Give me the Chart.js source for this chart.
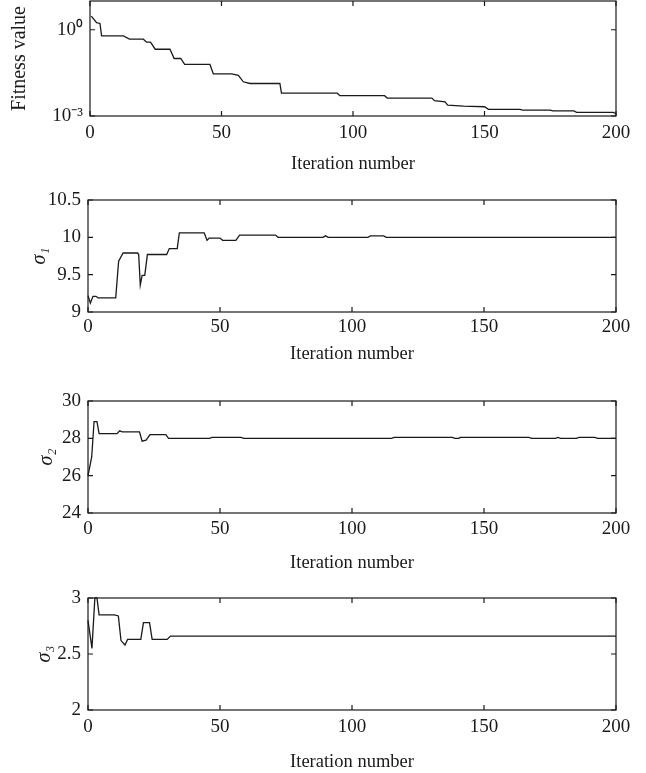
<!DOCTYPE html>
<html><head><meta charset="utf-8">
<script src="https://cdn.jsdelivr.net/npm/chart.js@4/dist/chart.umd.min.js"></script>
<style>
body{margin:0;background:#fff;width:646px;height:773px;overflow:hidden;position:relative}
canvas{position:absolute;left:0}
</style></head>
<body>
<canvas id="c1" width="646" height="186" style="top:0"></canvas>
<canvas id="c2" width="646" height="196" style="top:186px"></canvas>
<canvas id="c3" width="646" height="201" style="top:382px"></canvas>
<canvas id="c4" width="646" height="190" style="top:583px"></canvas>
<script>
// ---- data ----
const xTicks = [0, 50, 100, 150, 200];

const fitnessIter = [0.5, 2.5, 3.8, 4.4, 12.7, 15, 20.3, 21.5, 23, 24.8, 30.4, 32, 34.5, 36, 45.6, 46.9, 53.9, 56.4, 58.3, 60.8, 72.2, 72.8, 94, 95, 112, 113, 130, 131, 135, 136, 142, 150, 151.5, 163.5, 164.5, 175, 176, 184, 185, 199, 200];
const fitnessValue = [3.0, 1.76, 1.66, 0.61, 0.61, 0.47, 0.47, 0.37, 0.37, 0.21, 0.21, 0.10, 0.10, 0.062, 0.062, 0.029, 0.029, 0.026, 0.0155, 0.0135, 0.0135, 0.0062, 0.0062, 0.0051, 0.0051, 0.0042, 0.0042, 0.0034, 0.0031, 0.0024, 0.0022, 0.0021, 0.0017, 0.0017, 0.0016, 0.0016, 0.0015, 0.0015, 0.00134, 0.00134, 0.0012];
const fitnessTicks = [0.001, 1];
const fitnessTickLabels = ['10\u207B\u00B3', '10\u2070'];

const sigma1Iter = [0, 0.9, 1.9, 3, 3.8, 10.5, 11.6, 13.3, 18.8, 19.2, 19.8, 20.5, 21.5, 22.5, 29.8, 30.8, 33.8, 34.6, 44, 45.1, 45.9, 50, 51, 56, 57.4, 71, 72, 89, 90, 91, 106, 107, 112, 113, 200];
const sigma1Value = [9.22, 9.12, 9.21, 9.21, 9.19, 9.19, 9.68, 9.79, 9.79, 9.77, 9.36, 9.49, 9.49, 9.77, 9.77, 9.85, 9.85, 10.06, 10.06, 9.96, 9.99, 9.99, 9.96, 9.96, 10.03, 10.03, 10.0, 10.0, 10.02, 10.0, 10.0, 10.02, 10.02, 10.0, 10.0];
const sigma1Ticks = [9, 9.5, 10, 10.5];

const sigma2Iter = [0, 1.4, 2.3, 3.4, 4.2, 11, 12, 13, 19.5, 20.5, 22, 23.5, 29.5, 30.5, 46, 47, 58, 59, 115, 116, 138, 139, 140.5, 141, 167, 168, 177, 178, 179, 185, 186, 192, 193, 200];
const sigma2Value = [26, 27.0, 28.9, 28.9, 28.25, 28.25, 28.4, 28.35, 28.35, 27.85, 27.9, 28.2, 28.2, 28.0, 28.0, 28.05, 28.05, 28.0, 28.0, 28.05, 28.05, 28.0, 28.0, 28.05, 28.05, 28.0, 28.0, 28.05, 28.0, 28.0, 28.05, 28.05, 28.0, 28.0];
const sigma2Ticks = [24, 26, 28, 30];

const sigma3Iter = [0, 1.5, 2.6, 3.4, 4.2, 10, 11.5, 12.5, 14, 15, 20, 21, 23.3, 24.3, 30, 31.2, 200];
const sigma3Value = [2.8, 2.55, 3.0, 3.0, 2.85, 2.85, 2.84, 2.62, 2.58, 2.63, 2.63, 2.78, 2.78, 2.63, 2.63, 2.66, 2.66];
const sigma3Ticks = [2, 2.5, 3];

const xTitle = 'Iteration number';

// ---- drawing ----
const FONT = "'Liberation Serif', 'Times New Roman', serif";
const INK = '#1a1a1a';

const framePlugin = {
  id: 'frame',
  afterDraw(chart) {
    const {ctx, chartArea: a} = chart;
    const x = chart.scales.x, y = chart.scales.y;
    ctx.save();
    ctx.strokeStyle = INK;
    ctx.lineWidth = 1.2;
    ctx.strokeRect(a.left, a.top, a.right - a.left, a.bottom - a.top);
    ctx.beginPath();
    x.ticks.forEach(t => {
      const px = x.getPixelForValue(t.value);
      ctx.moveTo(px, a.bottom); ctx.lineTo(px, a.bottom - 5);
      ctx.moveTo(px, a.top); ctx.lineTo(px, a.top + 5);
    });
    y.ticks.forEach(t => {
      const py = y.getPixelForValue(t.value);
      ctx.moveTo(a.left, py); ctx.lineTo(a.left + 5, py);
      ctx.moveTo(a.right, py); ctx.lineTo(a.right - 5, py);
    });
    ctx.stroke();
    ctx.restore();
  }
};

function makeChart(id, cfg) {
  const pts = cfg.iter.map((v, i) => ({x: v, y: cfg.values[i]}));
  const yScale = {
    type: cfg.log ? 'logarithmic' : 'linear',
    min: cfg.min, max: cfg.max,
    grid: {display: false, drawTicks: false},
    border: {display: false},
    ticks: {
      autoSkip: false,
      color: INK, padding: 7,
      font: {family: FONT, size: 19},
      callback: (v, i) => cfg.tickLabels ? cfg.tickLabels[i] : String(v)
    },
    afterBuildTicks: s => { s.ticks = cfg.ticks.map(v => ({value: v})); },
    afterFit: s => { s.width = cfg.left; s.paddingTop = 0; s.paddingBottom = 0; },
    title: {
      display: true, text: cfg.yTitle, color: INK,
      font: {family: FONT, size: cfg.yTitleSize, style: cfg.italic ? 'italic' : 'normal'},
      padding: {top: cfg.yTitlePad, bottom: 0}
    }
  };
  const xScale = {
    type: 'linear', min: 0, max: 200,
    grid: {display: false, drawTicks: false},
    border: {display: false},
    ticks: {autoSkip: false, color: INK, padding: cfg.xTickPad, maxRotation: 0,
      font: {family: FONT, size: 19}},
    afterBuildTicks: s => { s.ticks = xTicks.map(v => ({value: v})); },
    afterFit: s => { s.height = cfg.xHeight; s.paddingLeft = 0; s.paddingRight = 0; },
    title: {
      display: true, text: xTitle, color: INK,
      font: {family: FONT, size: 18.5},
      padding: {top: 0, bottom: cfg.xTitlePad}
    }
  };
  return new Chart(document.getElementById(id), {
    type: 'line',
    data: {datasets: [{
      data: pts, borderColor: INK, borderWidth: 1.3, pointRadius: 0,
      tension: 0, fill: false, clip: 3
    }]},
    options: {
      responsive: false, animation: false,
      layout: {padding: {top: cfg.top, right: 30, left: 0, bottom: 0}},
      plugins: {legend: {display: false}, tooltip: {enabled: false}},
      scales: {x: xScale, y: yScale}
    },
    plugins: [framePlugin]
  });
}

makeChart('c1', {iter: fitnessIter, values: fitnessValue, log: true, min: 0.001, max: 10,
  ticks: fitnessTicks, tickLabels: fitnessTickLabels, yTitle: 'Fitness value', italic: false,
  yTitleSize: 20, left: 90, top: 1, yTitlePad: 8, xHeight: 70, xTickPad: 6, xTitlePad: 11});
makeChart('c2', {iter: sigma1Iter, values: sigma1Value, min: 9, max: 10.5,
  ticks: sigma1Ticks, yTitle: '\u03C3\u2081', italic: true,
  yTitleSize: 20, left: 88, top: 14, yTitlePad: 28, xHeight: 70, xTickPad: 4, xTitlePad: 17});
makeChart('c3', {iter: sigma2Iter, values: sigma2Value, min: 24, max: 30,
  ticks: sigma2Ticks, yTitle: '\u03C3\u2082', italic: true,
  yTitleSize: 20, left: 88, top: 19, yTitlePad: 35, xHeight: 70, xTickPad: 5, xTitlePad: 9});
makeChart('c4', {iter: sigma3Iter, values: sigma3Value, min: 2, max: 3,
  ticks: sigma3Ticks, yTitle: '\u03C3\u2083', italic: true,
  yTitleSize: 20, left: 88, top: 15, yTitlePad: 33, xHeight: 63, xTickPad: 6, xTitlePad: 0});
</script>
</body></html>
